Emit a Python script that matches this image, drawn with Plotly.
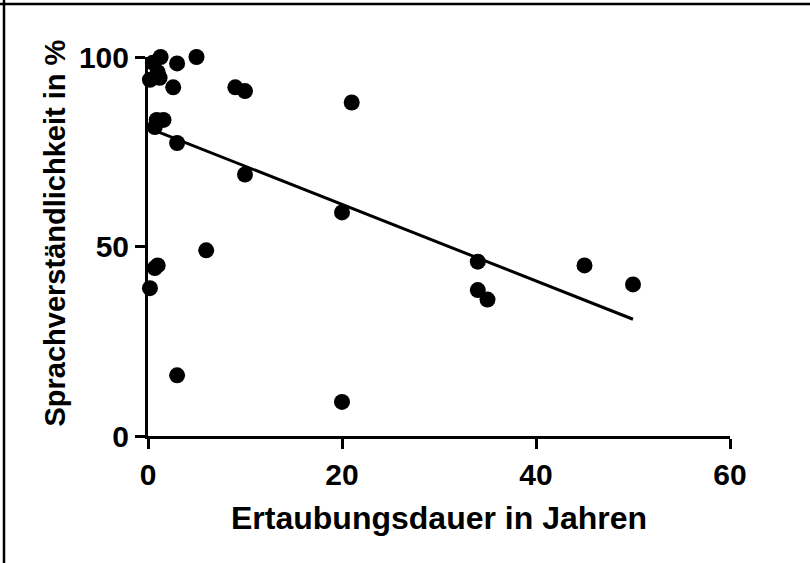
import numpy as np
import plotly.graph_objects as go

# Data (years of deafness vs. speech intelligibility %)
dauer = [1.3, 5, 3, 0.5, 1.0, 0.2, 1.2, 2.6, 9, 10, 21, 0.9, 1.6, 0.7, 3, 10, 20, 6,
         34, 0.7, 1.0, 0.2, 34, 35, 45, 50, 3, 20]
verst = [100, 100, 98.3, 98.5, 96, 94, 94.5, 92, 92, 91, 88, 83.4, 83.4, 81.5, 77.3, 69,
         59, 49, 46, 44.3, 45, 39, 38.5, 36, 45, 40, 16, 9]

x_ticks = [0, 20, 40, 60]
y_ticks = [0, 50, 100]

# Regression line
fit_intercept = 81.3
fit_slope = -1.01
fit_x = np.array([0, max(dauer)])
fit_y = fit_slope * fit_x + fit_intercept

font_family = "Liberation Sans, Arial, sans-serif"

fig = go.Figure()
fig.add_trace(go.Scatter(x=dauer, y=verst, mode="markers",
                         marker=dict(size=16, color="black"),
                         cliponaxis=False, showlegend=False))
fig.add_trace(go.Scatter(x=fit_x, y=fit_y, mode="lines",
                         line=dict(color="black", width=3),
                         cliponaxis=False, showlegend=False))

axis_common = dict(showline=True, linecolor="black", linewidth=3,
                   ticks="outside", ticklen=10, tickwidth=3, tickcolor="black",
                   showgrid=False, zeroline=False,
                   tickfont=dict(family=font_family, size=30, color="black", weight="bold"))

fig.update_xaxes(range=[0, 60], tickvals=x_ticks, **axis_common)
fig.update_yaxes(range=[0, 100], tickvals=y_ticks, **axis_common)

fig.update_layout(
    width=810, height=563,
    margin=dict(l=148, r=80, t=57, b=127),
    plot_bgcolor="white", paper_bgcolor="white",
    annotations=[
        dict(text="<b>Ertaubungsdauer in Jahren</b>", xref="paper", yref="paper",
             x=0.5, y=0, yshift=-82, xanchor="center", yanchor="middle", showarrow=False,
             font=dict(family=font_family, size=32, color="black")),
        dict(text="<b>Sprachverständlichkeit in %</b>", xref="paper", yref="paper",
             x=0, y=0.5, xshift=-94, yshift=13, textangle=-90, xanchor="center", yanchor="middle",
             showarrow=False, font=dict(family=font_family, size=29, color="black")),
    ],
    shapes=[
        dict(type="line", xref="paper", yref="paper", x0=-148/582, x1=1.2,
             y0=1 + (57 - 4) / 379, y1=1 + (57 - 4) / 379, line=dict(color="black", width=2.5)),
        dict(type="line", xref="paper", yref="paper", x0=-(148 - 4) / 582, x1=-(148 - 4) / 582,
             y0=1 + 57 / 379, y1=-0.5, line=dict(color="black", width=2.5)),
    ],
)

fig.write_html("out.html")
